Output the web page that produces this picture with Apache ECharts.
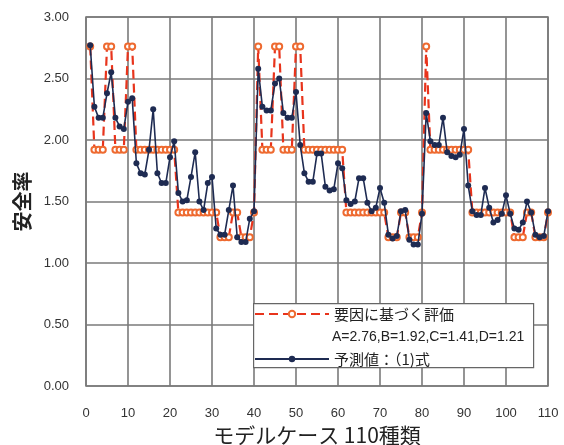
<!DOCTYPE html>
<html>
<head>
<meta charset="utf-8">
<script src="https://cdn.jsdelivr.net/npm/echarts@6/dist/echarts.min.js"></script>
<style>
html,body{margin:0;padding:0;background:#fff;}
#chart{width:564px;height:445px;}
</style>
</head>
<body>
<div id="chart"></div>
<script>
// ---- data ----
const caseNo = [1,2,3,4,5,6,7,8,9,10,11,12,13,14,15,16,17,18,19,20,
  21,22,23,24,25,26,27,28,29,30,31,32,33,34,35,36,37,38,39,40,
  41,42,43,44,45,46,47,48,49,50,51,52,53,54,55,56,57,58,59,60,
  61,62,63,64,65,66,67,68,69,70,71,72,73,74,75,76,77,78,79,80,
  81,82,83,84,85,86,87,88,89,90,91,92,93,94,95,96,97,98,99,100,
  101,102,103,104,105,106,107,108,109,110];

// 要因に基づく評価 (A=2.76, B=1.92, C=1.41, D=1.21)
const factorEval = [
  2.76,1.92,1.92,1.92,2.76,2.76,1.92,1.92,1.92,2.76,
  2.76,1.92,1.92,1.92,1.92,1.92,1.92,1.92,1.92,1.92,
  1.92,1.41,1.41,1.41,1.41,1.41,1.41,1.41,1.41,1.41,
  1.41,1.21,1.21,1.21,1.41,1.41,1.21,1.21,1.21,1.41,
  2.76,1.92,1.92,1.92,2.76,2.76,1.92,1.92,1.92,2.76,
  2.76,1.92,1.92,1.92,1.92,1.92,1.92,1.92,1.92,1.92,
  1.92,1.41,1.41,1.41,1.41,1.41,1.41,1.41,1.41,1.41,
  1.41,1.21,1.21,1.21,1.41,1.41,1.21,1.21,1.21,1.41,
  2.76,1.92,1.92,1.92,1.92,1.92,1.92,1.92,1.92,1.92,
  1.92,1.41,1.41,1.41,1.41,1.41,1.41,1.41,1.41,1.41,
  1.41,1.21,1.21,1.21,1.41,1.41,1.21,1.21,1.21,1.41];

// 予測値：(1)式
const predicted = [
  2.77,2.27,2.18,2.18,2.38,2.55,2.18,2.11,2.09,2.31,
  2.34,1.81,1.73,1.72,1.92,2.25,1.73,1.65,1.65,1.86,
  1.99,1.57,1.50,1.51,1.70,1.90,1.50,1.43,1.65,1.70,
  1.28,1.23,1.23,1.43,1.63,1.21,1.17,1.17,1.36,1.42,
  2.58,2.27,2.24,2.24,2.46,2.50,2.22,2.18,2.18,2.39,
  1.96,1.73,1.66,1.66,1.89,1.89,1.62,1.59,1.60,1.81,
  1.77,1.51,1.48,1.50,1.69,1.69,1.49,1.42,1.45,1.61,
  1.49,1.23,1.20,1.22,1.42,1.43,1.19,1.15,1.15,1.40,
  2.22,1.99,1.96,1.96,2.18,1.90,1.87,1.86,1.88,2.09,
  1.63,1.42,1.39,1.39,1.61,1.45,1.33,1.35,1.40,1.55,
  1.40,1.28,1.27,1.33,1.50,1.41,1.23,1.21,1.22,1.42];

const xTicks = [0,10,20,30,40,50,60,70,80,90,100,110];
const yTicks = [0.00,0.50,1.00,1.50,2.00,2.50,3.00];

const seriesNames = ['要因に基づく評価', '予測値：（1)式'];
const legendNote = 'A=2.76,B=1.92,C=1.41,D=1.21';
const xTitle = 'モデルケース 110種類';
const yTitle = '安全率';

// ---- chart ----
const chart = echarts.init(document.getElementById('chart'), null, {renderer: 'canvas'});
const pairs = (ys) => caseNo.map((x, i) => [x, ys[i]]);
const numFont = '"Liberation Sans", Arial, sans-serif';
const jpFont = '"Noto Sans CJK JP", sans-serif';

chart.setOption({
  animation: false,
  backgroundColor: '#fff',
  grid: {
    left: 86, right: 16, top: 17, bottom: 59,
    containLabel: false, outerBoundsMode: 'none',
    show: true, borderColor: '#7a7a7a', borderWidth: 1.6, backgroundColor: 'transparent'
  },
  xAxis: {
    type: 'value',
    min: xTicks[0], max: xTicks[xTicks.length - 1], interval: xTicks[1] - xTicks[0],
    axisLine: {show: false}, axisTick: {show: false},
    axisLabel: {margin: 21, color: '#333', fontSize: 13, fontFamily: numFont},
    splitLine: {show: true, lineStyle: {color: '#7a7a7a', width: 1.6}},
    name: xTitle, nameLocation: 'middle', nameGap: 36,
    nameTextStyle: {fontSize: 21, color: '#222', fontFamily: jpFont}
  },
  yAxis: {
    type: 'value',
    min: yTicks[0], max: yTicks[yTicks.length - 1], interval: yTicks[1] - yTicks[0],
    axisLine: {show: false}, axisTick: {show: false},
    axisLabel: {margin: 17, color: '#333', fontSize: 13, fontFamily: numFont,
      formatter: (v) => v.toFixed(2)},
    splitLine: {show: true, lineStyle: {color: '#7a7a7a', width: 1.6}},
    name: yTitle, nameLocation: 'middle', nameRotate: 90, nameGap: 54,
    nameTextStyle: {fontSize: 20, color: '#222', fontFamily: jpFont, fontWeight: 'bold'}
  },
  legend: {
    orient: 'vertical', left: 254, top: 305,
    itemWidth: 74, itemHeight: 8, itemGap: 27,
    padding: 0,
    textStyle: {fontSize: 15, color: '#222', fontFamily: jpFont, lineHeight: 18},
    data: seriesNames,
    z: 10
  },
  graphic: [
    {type: 'rect', left: 253, top: 303, z: 5,
      shape: {width: 280, height: 64},
      style: {fill: '#fff', stroke: '#666', lineWidth: 1.2}},
    {type: 'text', left: 332, top: 330, z: 11,
      style: {text: legendNote, fontSize: 14, fill: '#222', fontFamily: numFont}}
  ],
  series: [
    {
      name: seriesNames[0], type: 'line', data: pairs(factorEval),
      symbol: 'emptyCircle', symbolSize: 6, showSymbol: true, showAllSymbol: true,
      lineStyle: {color: '#e8341c', width: 2.2, type: [9, 5]},
      itemStyle: {color: '#ee6a30', borderColor: '#ee6a30', borderWidth: 1.4},
      z: 2
    },
    {
      name: seriesNames[1], type: 'line', data: pairs(predicted),
      symbol: 'circle', symbolSize: 6, showSymbol: true, showAllSymbol: true,
      lineStyle: {color: '#1e2b52', width: 1.6},
      itemStyle: {color: '#1e2b52'},
      z: 3
    }
  ]
});
</script>
</body>
</html>
